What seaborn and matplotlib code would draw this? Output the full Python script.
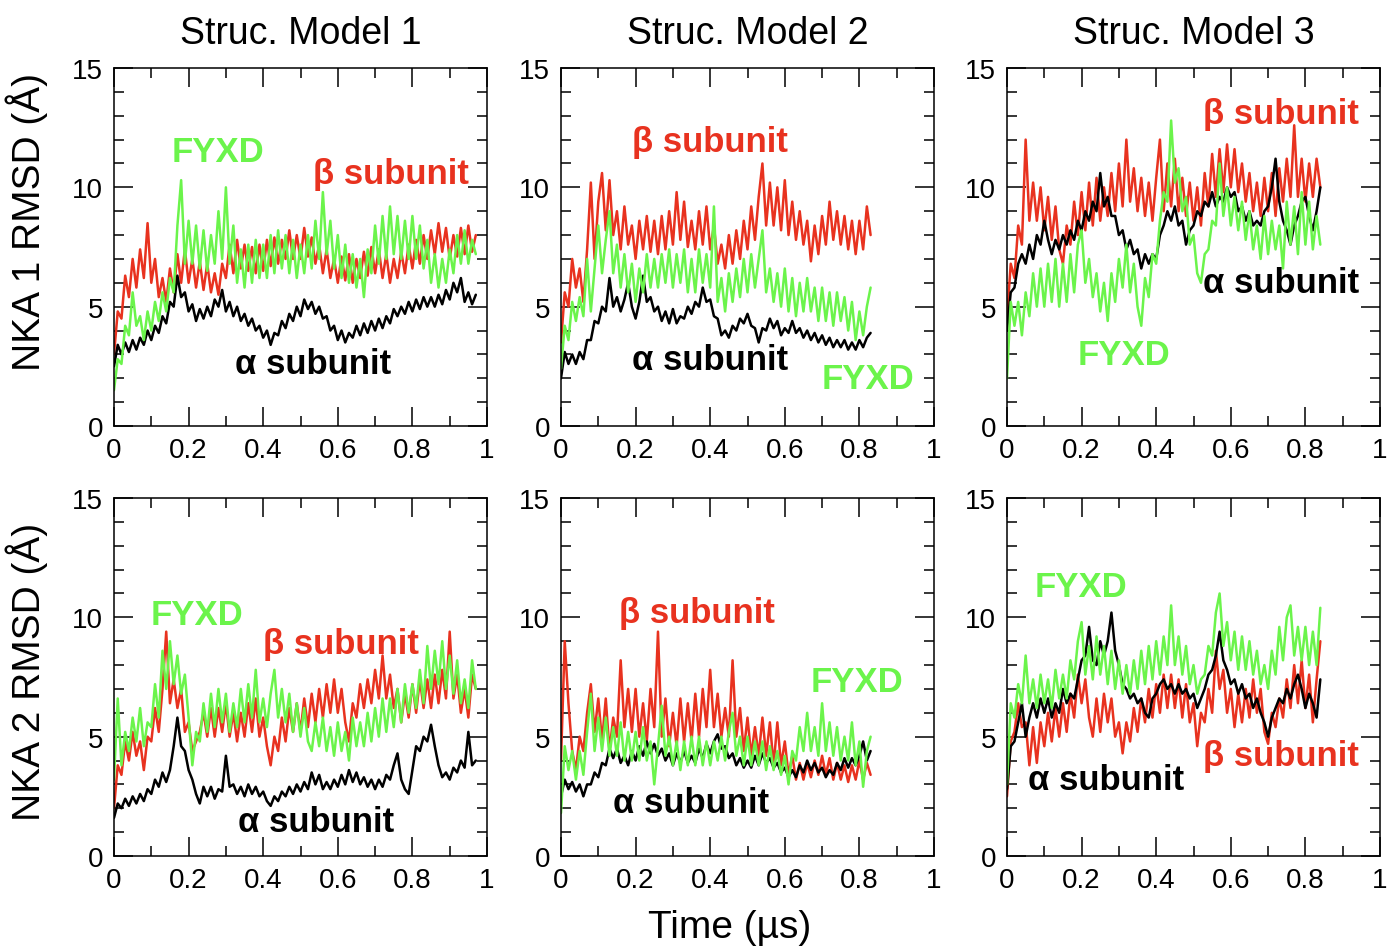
import numpy as np
import pandas as pd
import seaborn as sns
import matplotlib.pyplot as plt
from matplotlib.ticker import MultipleLocator, FuncFormatter

# RMSD traces (Angstrom), one value every 0.01 us
STEP = 0.01

# NKA 1, structural model 1
m1_nka1_alpha = [2.5, 3.4, 3.0, 3.5, 3.1, 3.6, 3.2, 3.7, 3.4, 4.0, 3.6, 4.2, 3.9, 4.6, 4.3, 5.2, 5.0, 6.3, 5.4, 5.6,
                 4.8, 5.1, 4.4, 4.9, 4.5, 5.0, 4.6, 5.3, 5.0, 5.7, 4.8, 5.2, 4.6, 5.0, 4.4, 4.7, 4.2, 4.5, 4.0, 4.2,
                 3.7, 4.0, 3.4, 3.9, 3.8, 4.4, 4.1, 4.7, 4.4, 5.0, 4.6, 5.3, 4.9, 5.2, 4.7, 5.0, 4.5, 4.6, 4.0, 4.2,
                 3.6, 4.0, 3.5, 3.9, 3.7, 4.2, 3.8, 4.3, 3.9, 4.4, 4.0, 4.5, 4.1, 4.6, 4.3, 4.9, 4.6, 5.0, 4.7, 5.2,
                 4.8, 5.3, 4.9, 5.4, 5.0, 5.4, 5.0, 5.5, 5.1, 5.7, 5.3, 6.0, 5.6, 6.2, 5.2, 5.6, 5.1, 5.5]
m1_nka1_beta = [3.0, 4.8, 4.5, 6.3, 5.4, 7.0, 5.8, 7.4, 6.2, 8.5, 6.0, 7.0, 5.4, 6.2, 5.2, 6.6, 5.6, 7.2, 6.0, 7.4,
                6.0, 7.0, 5.8, 6.9, 5.7, 6.8, 5.6, 6.4, 5.5, 6.8, 6.2, 7.6, 6.4, 7.8, 6.6, 7.6, 6.5, 7.5, 6.4, 7.6,
                6.5, 7.8, 6.7, 7.9, 6.8, 7.8, 7.0, 8.2, 7.0, 8.0, 7.0, 8.3, 7.1, 7.9, 6.8, 7.6, 6.4, 7.4, 6.2, 7.0,
                6.0, 7.1, 6.1, 7.2, 6.0, 7.0, 6.2, 7.3, 6.3, 7.5, 6.4, 7.4, 6.2, 7.2, 6.0, 7.0, 6.2, 7.3, 6.4, 7.6,
                6.6, 7.8, 6.8, 8.0, 7.0, 8.2, 7.2, 8.5, 7.3, 8.3, 7.0, 8.0, 7.1, 8.3, 7.2, 8.4, 7.3, 8.0]
m1_nka1_fyxd = [1.5, 2.8, 2.6, 4.2, 3.8, 5.6, 4.2, 4.6, 3.6, 4.8, 4.0, 5.2, 4.4, 5.6, 4.8, 6.2, 5.6, 8.4, 10.3, 6.8,
                8.6, 6.8, 8.4, 6.6, 8.2, 6.5, 8.0, 6.8, 9.0, 7.0, 10.0, 6.8, 8.4, 6.0, 7.4, 5.8, 7.6, 6.0, 7.8, 6.2,
                7.6, 6.2, 8.0, 6.4, 8.2, 6.6, 8.0, 6.4, 7.8, 6.2, 7.6, 6.4, 8.0, 6.6, 8.6, 7.0, 9.8, 7.2, 8.6, 6.6,
                8.0, 6.2, 7.6, 6.0, 7.2, 5.8, 7.0, 5.4, 7.4, 6.4, 8.4, 6.8, 8.8, 7.0, 9.2, 7.2, 8.8, 7.0, 8.6, 7.0,
                8.8, 7.0, 8.4, 6.6, 7.8, 6.0, 7.2, 5.8, 7.0, 6.0, 7.4, 6.4, 8.0, 6.8, 8.2, 6.8, 7.8, 7.2]

# NKA 1, structural model 2
m2_nka1_alpha = [2.0, 3.1, 2.6, 3.0, 2.6, 3.1, 2.8, 3.6, 3.6, 4.4, 4.3, 5.0, 4.8, 6.2, 5.0, 5.4, 4.8, 5.3, 6.0, 5.0,
                 4.5, 5.2, 6.3, 5.2, 5.4, 4.8, 5.0, 4.4, 4.8, 4.3, 4.9, 4.3, 4.6, 4.5, 5.0, 4.7, 5.2, 5.0, 5.8, 5.2,
                 5.3, 4.6, 4.5, 3.8, 4.0, 3.7, 4.2, 4.0, 4.5, 4.3, 4.7, 4.2, 4.1, 3.5, 4.1, 4.0, 4.5, 4.1, 4.4, 3.8,
                 4.1, 3.9, 4.4, 3.9, 4.1, 3.7, 4.0, 3.6, 3.9, 3.5, 3.8, 3.4, 3.7, 3.3, 3.6, 3.3, 3.6, 3.2, 3.5, 3.2,
                 3.6, 3.3, 3.7, 3.9]
m2_nka1_beta = [3.5, 5.6, 5.0, 7.0, 5.8, 6.6, 5.2, 7.4, 10.2, 7.0, 9.4, 10.6, 8.2, 10.3, 8.0, 9.0, 7.4, 9.2, 7.6, 8.4,
                7.0, 8.6, 7.4, 8.8, 7.3, 8.6, 7.2, 8.8, 7.4, 9.0, 7.6, 9.8, 7.8, 9.4, 7.5, 8.6, 7.4, 9.0, 7.6, 9.2,
                7.4, 8.4, 6.8, 7.6, 6.6, 8.0, 6.8, 8.2, 7.0, 8.6, 7.4, 9.2, 7.8, 9.6, 11.0, 8.4, 10.2, 8.4, 10.0, 8.2,
                10.3, 8.0, 9.4, 7.8, 9.0, 7.6, 8.6, 6.9, 8.4, 7.2, 8.8, 7.6, 9.4, 7.8, 9.0, 7.6, 8.8, 7.4, 8.6, 7.2,
                8.6, 7.4, 9.2, 8.0]
m2_nka1_fyxd = [2.4, 4.2, 3.6, 5.2, 4.4, 5.4, 4.6, 7.0, 4.8, 6.6, 8.4, 6.4, 7.8, 9.0, 6.4, 7.6, 5.8, 7.2, 5.6, 6.8,
                5.2, 6.6, 5.6, 7.2, 5.8, 7.0, 5.8, 7.2, 6.0, 7.4, 5.8, 7.2, 6.0, 7.4, 5.6, 7.0, 5.6, 7.4, 6.0, 7.2,
                5.8, 9.2, 5.2, 6.2, 4.8, 6.4, 5.2, 6.6, 5.4, 7.0, 5.6, 7.2, 5.8, 7.0, 8.2, 5.6, 6.6, 5.2, 6.4, 5.0,
                6.6, 4.8, 6.2, 4.6, 6.0, 4.8, 6.2, 4.8, 5.8, 4.4, 5.8, 4.4, 5.6, 4.2, 5.6, 4.4, 5.4, 4.0, 5.2, 3.6,
                4.8, 3.8, 5.0, 5.8]

# NKA 1, structural model 3
m3_nka1_alpha = [4.0, 5.6, 5.8, 6.8, 7.2, 6.8, 7.6, 7.0, 8.0, 7.6, 8.6, 7.8, 7.2, 7.8, 7.4, 8.0, 7.6, 8.2, 7.8, 8.6,
                 8.2, 9.0, 8.6, 9.4, 9.0, 10.6, 9.2, 9.6, 8.8, 8.8, 8.0, 8.2, 7.4, 7.8, 7.2, 7.4, 6.6, 7.2, 6.8, 7.2,
                 7.0, 8.0, 8.4, 9.0, 8.6, 9.2, 8.4, 8.6, 7.6, 8.2, 8.4, 9.0, 8.8, 9.4, 9.2, 9.8, 9.2, 9.6, 9.4, 10.0,
                 9.6, 9.8, 9.0, 9.2, 8.6, 9.0, 8.4, 8.6, 8.4, 9.0, 9.2, 10.0, 11.2, 9.4, 8.6, 8.2, 7.6, 8.4, 8.8, 9.4,
                 9.6, 8.8, 8.2, 9.0, 10.0]
m3_nka1_beta = [4.5, 6.8, 6.2, 8.4, 7.6, 12.0, 8.6, 10.2, 8.6, 10.0, 8.2, 9.6, 7.8, 9.2, 7.4, 6.8, 8.4, 7.6, 9.4, 8.0,
                9.8, 8.2, 10.2, 8.4, 10.4, 8.6, 10.0, 8.8, 10.6, 9.0, 11.0, 9.2, 12.0, 9.4, 10.8, 9.0, 10.4, 8.8, 10.2, 8.6,
                10.4, 12.0, 9.0, 11.0, 9.2, 11.2, 9.0, 10.4, 8.8, 10.2, 8.6, 10.0, 8.4, 10.6, 9.2, 11.4, 9.6, 11.6, 9.8, 11.8,
                10.0, 11.6, 9.8, 11.0, 9.4, 10.6, 9.0, 10.2, 8.8, 10.4, 9.0, 10.6, 8.8, 10.8, 9.4, 11.2, 9.6, 12.6, 9.6, 11.2,
                9.4, 11.0, 9.6, 11.2, 10.0]
m3_nka1_fyxd = [2.0, 5.2, 4.2, 5.2, 3.8, 5.6, 4.6, 6.4, 5.0, 6.6, 5.0, 6.8, 5.2, 7.0, 5.0, 6.8, 5.2, 7.2, 5.6, 7.6,
                8.2, 6.0, 7.0, 5.4, 6.4, 4.8, 6.0, 4.4, 6.4, 5.2, 7.0, 5.8, 7.6, 5.6, 6.8, 5.0, 4.2, 6.2, 5.4, 7.2,
                6.8, 8.6, 9.8, 9.4, 12.8, 10.2, 10.8, 9.0, 9.6, 7.6, 8.0, 6.4, 6.0, 7.2, 7.4, 8.6, 8.4, 11.0, 8.8, 10.0,
                8.4, 9.6, 8.2, 9.4, 7.8, 9.0, 7.4, 8.4, 7.0, 8.8, 7.2, 8.6, 7.4, 8.4, 6.6, 9.4, 7.6, 9.2, 7.2, 9.8,
                7.6, 9.4, 7.4, 8.8, 7.6]

# NKA 2, structural model 1
m1_nka2_alpha = [1.6, 2.2, 2.0, 2.4, 2.1, 2.5, 2.2, 2.6, 2.3, 2.8, 2.6, 3.2, 2.9, 3.5, 3.1, 3.6, 4.6, 5.8, 4.6, 4.4,
                 3.6, 3.2, 2.6, 2.2, 2.9, 2.5, 2.9, 2.4, 2.8, 2.7, 4.2, 2.9, 3.0, 2.6, 2.9, 2.5, 3.0, 2.6, 2.9, 2.5,
                 2.7, 2.3, 2.1, 2.5, 2.3, 2.7, 2.5, 2.9, 2.6, 3.0, 2.7, 3.1, 2.8, 3.5, 3.0, 3.4, 2.8, 3.1, 2.8, 3.2,
                 2.9, 3.4, 3.0, 3.6, 3.1, 3.5, 3.0, 3.3, 2.9, 3.2, 2.8, 3.2, 2.9, 3.4, 3.2, 3.8, 4.3, 3.2, 2.8, 2.6,
                 3.6, 4.6, 4.4, 5.0, 4.8, 5.5, 4.6, 3.8, 3.3, 3.5, 3.2, 3.7, 3.5, 4.0, 3.7, 5.2, 3.8, 4.0]
m1_nka2_beta = [2.0, 3.8, 3.4, 4.8, 4.0, 5.2, 4.2, 4.8, 3.6, 5.0, 4.8, 6.2, 5.2, 7.0, 9.4, 6.4, 7.4, 6.2, 7.0, 5.2,
                5.6, 4.4, 4.8, 5.2, 6.0, 5.0, 6.2, 5.0, 6.2, 5.2, 6.4, 5.0, 6.0, 4.8, 6.0, 5.0, 6.4, 5.2, 6.6, 5.0,
                5.8, 4.6, 3.8, 5.0, 4.4, 5.8, 4.8, 6.2, 5.2, 6.4, 5.2, 6.6, 5.4, 6.8, 5.6, 7.0, 5.8, 7.2, 6.0, 7.4,
                6.0, 7.0, 5.6, 4.8, 6.4, 5.8, 7.2, 6.2, 7.4, 6.4, 7.8, 6.6, 8.4, 6.6, 7.6, 6.2, 7.0, 5.6, 6.8, 5.8,
                7.2, 6.0, 7.4, 6.2, 7.4, 6.2, 7.6, 6.4, 7.8, 6.6, 9.4, 6.6, 7.6, 6.0, 7.0, 5.8, 7.6, 7.0]
m1_nka2_fyxd = [3.2, 6.6, 3.8, 5.2, 4.4, 5.8, 4.8, 6.2, 4.6, 5.6, 5.4, 7.2, 5.8, 8.6, 7.0, 9.0, 7.2, 8.4, 6.8, 7.6,
                5.8, 3.8, 5.2, 4.8, 6.4, 5.2, 6.8, 5.4, 7.0, 5.6, 6.8, 5.2, 6.4, 5.4, 7.0, 5.6, 7.2, 5.8, 7.8, 5.6,
                6.6, 5.4, 6.8, 7.8, 5.8, 7.0, 5.6, 6.8, 5.2, 6.4, 5.0, 6.2, 4.8, 4.4, 5.6, 4.6, 5.8, 4.4, 5.4, 4.2,
                5.6, 4.4, 5.2, 4.0, 5.8, 4.6, 5.6, 4.6, 6.0, 4.8, 6.2, 5.0, 6.6, 5.2, 6.6, 5.4, 7.0, 5.6, 7.2, 6.0,
                7.2, 6.2, 7.8, 6.4, 8.8, 7.0, 8.6, 7.2, 9.0, 7.0, 8.4, 6.8, 8.2, 6.4, 7.4, 6.2, 8.2, 7.0]

# NKA 2, structural model 2
m2_nka2_alpha = [2.5, 3.2, 2.8, 3.1, 2.7, 3.0, 2.5, 3.0, 3.0, 3.5, 3.3, 3.9, 3.8, 4.5, 4.1, 4.5, 3.9, 4.2, 3.8, 4.4,
                 4.0, 4.6, 4.2, 4.8, 4.3, 4.7, 4.2, 4.5, 4.0, 4.3, 3.8, 4.3, 3.9, 4.4, 3.9, 4.2, 3.9, 4.5, 4.1, 4.7,
                 4.3, 4.8, 5.1, 4.5, 4.6, 4.1, 4.3, 3.8, 4.1, 3.7, 4.0, 3.7, 4.2, 3.8, 4.3, 3.9, 4.1, 3.7, 3.9, 3.5,
                 3.7, 3.3, 3.6, 3.3, 3.8, 3.5, 4.0, 3.6, 3.9, 3.5, 3.7, 3.3, 3.6, 3.4, 3.9, 3.6, 4.1, 3.7, 4.1, 3.8,
                 4.2, 4.8, 4.0, 4.4]
m2_nka2_beta = [4.0, 9.0, 6.4, 4.4, 3.6, 5.0, 4.4, 6.0, 7.2, 5.2, 6.6, 4.8, 6.6, 4.4, 5.8, 5.0, 8.2, 5.4, 7.0, 5.2,
                7.0, 5.0, 6.4, 4.8, 7.0, 5.4, 9.4, 5.0, 6.6, 4.6, 6.0, 4.6, 6.6, 4.8, 6.4, 4.8, 6.8, 5.0, 7.0, 5.4,
                7.8, 5.4, 6.8, 5.0, 6.2, 5.0, 8.2, 5.0, 6.2, 4.4, 5.8, 4.2, 5.4, 4.2, 5.8, 4.2, 5.6, 3.8, 5.6, 3.8,
                4.8, 3.4, 4.2, 3.2, 3.9, 3.2, 3.9, 3.3, 4.0, 3.4, 4.2, 3.4, 4.1, 3.2, 3.9, 3.2, 3.8, 3.1, 3.8, 3.2,
                4.0, 3.2, 3.9, 3.4]
m2_nka2_fyxd = [1.8, 4.6, 3.6, 4.4, 3.2, 4.4, 3.4, 5.2, 6.8, 4.4, 5.8, 4.4, 5.8, 4.2, 5.4, 4.2, 5.6, 4.0, 5.2, 4.0,
                5.2, 4.0, 5.4, 4.0, 4.8, 3.0, 4.6, 6.3, 4.2, 5.0, 3.8, 4.8, 3.6, 4.8, 3.8, 5.0, 3.8, 5.0, 3.8, 4.8,
                3.8, 4.8, 4.0, 5.0, 4.0, 5.2, 6.0, 4.2, 5.0, 3.8, 5.0, 3.8, 4.8, 3.8, 4.8, 3.6, 4.6, 3.6, 4.4, 3.4,
                4.2, 3.0, 4.4, 4.0, 5.4, 4.4, 6.0, 4.4, 5.4, 4.2, 6.4, 4.4, 5.6, 4.2, 5.4, 4.0, 5.0, 4.0, 5.6, 3.8,
                4.8, 2.9, 4.4, 5.0]

# NKA 2, structural model 3
m3_nka2_alpha = [2.8, 4.6, 4.8, 5.6, 6.4, 5.0, 5.8, 6.4, 5.8, 6.6, 6.0, 6.6, 5.8, 6.4, 6.0, 7.0, 6.4, 6.8, 6.6, 7.4,
                 8.2, 8.4, 9.6, 8.2, 8.0, 9.0, 8.4, 9.0, 10.2, 8.6, 8.0, 7.2, 7.0, 6.6, 6.8, 6.4, 6.6, 6.0, 5.8, 6.6,
                 6.8, 7.2, 7.4, 7.0, 7.2, 6.8, 7.2, 6.8, 7.0, 6.6, 6.8, 6.2, 6.6, 7.0, 7.6, 7.8, 8.4, 9.4, 8.2, 7.8,
                 7.2, 7.4, 6.8, 7.2, 6.6, 6.8, 6.2, 6.6, 6.0, 5.6, 5.0, 5.8, 6.2, 6.6, 6.4, 7.0, 6.6, 7.2, 7.6, 7.0,
                 6.2, 6.8, 6.4, 5.8, 7.4]
m3_nka2_beta = [2.5, 4.8, 5.2, 6.4, 5.4, 5.6, 3.8, 5.4, 3.9, 5.6, 4.6, 6.0, 4.8, 6.2, 5.0, 6.4, 5.2, 6.8, 5.8, 7.6,
                6.4, 7.4, 5.8, 5.0, 6.6, 5.2, 6.8, 5.6, 6.6, 5.0, 5.6, 4.3, 5.6, 4.8, 6.2, 5.2, 6.6, 5.6, 7.0, 5.8,
                7.2, 6.0, 7.6, 6.2, 7.6, 6.2, 7.4, 5.8, 7.2, 5.6, 6.4, 4.6, 6.0, 5.6, 7.0, 6.0, 8.6, 7.0, 7.8, 6.0,
                7.0, 5.4, 6.8, 5.6, 7.0, 5.8, 7.4, 6.0, 7.0, 5.2, 4.7, 6.0, 5.4, 6.6, 5.8, 7.4, 6.2, 8.0, 6.4, 8.2,
                6.2, 7.6, 5.6, 7.4, 9.0]
m3_nka2_fyxd = [3.0, 6.4, 5.8, 7.2, 6.4, 8.4, 6.4, 7.4, 6.2, 7.6, 6.4, 7.4, 6.2, 7.8, 6.6, 7.6, 6.6, 8.2, 7.4, 9.0,
                9.8, 7.6, 8.8, 7.4, 9.2, 7.6, 8.8, 7.2, 8.6, 7.0, 8.2, 6.8, 8.0, 6.8, 8.2, 7.0, 8.6, 7.2, 8.8, 7.4,
                9.0, 7.6, 9.2, 8.0, 10.5, 8.0, 9.2, 7.6, 8.8, 7.2, 8.0, 6.8, 7.4, 7.6, 8.8, 8.4, 10.2, 11.0, 8.8, 9.8,
                8.2, 9.4, 7.8, 9.2, 7.8, 9.0, 7.6, 8.6, 7.2, 8.0, 7.0, 8.6, 7.6, 9.6, 8.2, 10.0, 10.5, 8.4, 9.6, 8.2,
                9.6, 8.0, 9.4, 8.0, 10.4]

col_titles = ["Struc. Model 1", "Struc. Model 2", "Struc. Model 3"]
row_labels = ["NKA 1 RMSD (Å)", "NKA 2 RMSD (Å)"]
series_names = ["β subunit", "α subunit", "FYXD"]
colors = {"β subunit": "#E8321F", "α subunit": "#000000", "FYXD": "#6BF44B"}

traces = [
    [(m1_nka1_beta, m1_nka1_alpha, m1_nka1_fyxd),
     (m2_nka1_beta, m2_nka1_alpha, m2_nka1_fyxd),
     (m3_nka1_beta, m3_nka1_alpha, m3_nka1_fyxd)],
    [(m1_nka2_beta, m1_nka2_alpha, m1_nka2_fyxd),
     (m2_nka2_beta, m2_nka2_alpha, m2_nka2_fyxd),
     (m3_nka2_beta, m3_nka2_alpha, m3_nka2_fyxd)],
]

# in-panel labels: (text, x, y) in data coordinates
panel_labels = [
    [[("FYXD", 0.155, 11.5), ("β subunit", 0.534, 10.6), ("α subunit", 0.324, 2.6)],
     [("β subunit", 0.191, 11.9), ("α subunit", 0.191, 2.8), ("FYXD", 0.70, 2.0)],
     [("β subunit", 0.525, 13.1), ("α subunit", 0.525, 6.0), ("FYXD", 0.19, 3.0)]],
    [[("FYXD", 0.097, 10.1), ("β subunit", 0.40, 8.9), ("α subunit", 0.332, 1.45)],
     [("β subunit", 0.156, 10.2), ("FYXD", 0.669, 7.3), ("α subunit", 0.14, 2.25)],
     [("FYXD", 0.075, 11.3), ("β subunit", 0.525, 4.2), ("α subunit", 0.056, 3.2)]],
]

sns.set_style("ticks")
plt.rcParams["font.family"] = ["Liberation Sans", "DejaVu Sans"]
plt.rcParams.update({"text.color": "black", "axes.labelcolor": "black",
                     "xtick.color": "black", "ytick.color": "black",
                     "axes.edgecolor": "black"})

fig = plt.figure(figsize=(13.88, 9.53), dpi=100)
lefts = [114 / 1388, 561 / 1388, 1007 / 1388]
bottoms = [1 - 427 / 953, 1 - 857 / 953]
w, h = 373 / 1388, 358 / 953

for r in range(2):
    for c in range(3):
        ax = fig.add_axes([lefts[c], bottoms[r], w, h])
        for name, vals in zip(series_names, traces[r][c]):
            t = np.round(np.arange(len(vals)) * STEP, 2)
            df = pd.DataFrame({"time": t, "rmsd": vals})
            sns.lineplot(data=df, x="time", y="rmsd", color=colors[name], lw=1.8, ax=ax)
        ax.set_xlim(0, 1)
        ax.set_ylim(0, 15)
        ax.set_xlabel("")
        ax.set_ylabel("")
        ax.xaxis.set_major_locator(MultipleLocator(0.2))
        ax.xaxis.set_minor_locator(MultipleLocator(0.1))
        ax.yaxis.set_major_locator(MultipleLocator(5))
        ax.yaxis.set_minor_locator(MultipleLocator(1))
        ax.xaxis.set_major_formatter(FuncFormatter(lambda v, p: f"{v:g}"))
        ax.yaxis.set_major_formatter(FuncFormatter(lambda v, p: f"{v:g}"))
        ax.tick_params(which="both", direction="in", top=True, right=True, width=1.1,
                       labelsize=20, color="black", labelcolor="black")
        ax.tick_params(which="major", length=14)
        ax.tick_params(which="minor", length=7)
        ax.tick_params(axis="x", pad=8)
        ax.tick_params(axis="y", pad=8)
        for sp in ax.spines.values():
            sp.set_linewidth(1.1)
            sp.set_color("black")
        for txt, x, y in panel_labels[r][c]:
            ax.text(x, y, txt, color=colors[txt], fontsize=25, fontweight="bold",
                    ha="left", va="center")
        if r == 0:
            ax.set_title(col_titles[c], fontsize=27, pad=18, color="black")

fig.text(0.0195, 1 - 222 / 953, row_labels[0], rotation=90, fontsize=28, ha="center", va="center")
fig.text(0.0195, 1 - 672 / 953, row_labels[1], rotation=90, fontsize=28, ha="center", va="center")
fig.text(730 / 1388, 1 - 938 / 953, "Time (µs)", fontsize=28, ha="center", va="baseline")

fig.savefig("out.png", dpi=100)
